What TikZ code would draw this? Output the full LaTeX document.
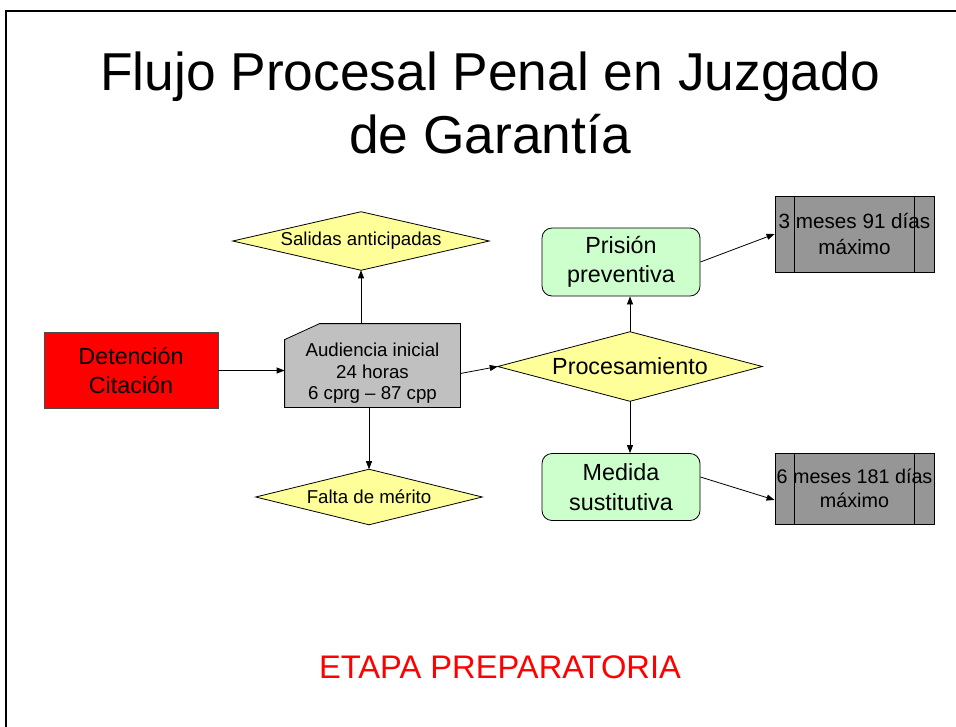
\documentclass[tikz,border=0pt]{standalone}
\usepackage{fontspec}
\setmainfont{Liberation Sans}
\usetikzlibrary{arrows.meta,backgrounds}
\definecolor{boxred}{HTML}{FF0000}
\definecolor{boxgray}{HTML}{C0C0C0}
\definecolor{boxyellow}{HTML}{FFFF99}
\definecolor{boxgreen}{HTML}{CCFFCC}
\definecolor{boxdark}{HTML}{969696}
\tikzset{
  base/.style={draw=black, line width=0.6pt, inner sep=0pt, align=center, text=black},
  dia/.style={inner sep=0pt, align=center, text=black, font=\fontsize{14}{16}\selectfont},
  diafill/.style={draw=black, line width=0.6pt, fill=boxyellow},
  rbox/.style={base, rectangle, rounded corners=7.5pt, fill=boxgreen, font=\fontsize{17.5}{22}\selectfont},
  pbox/.style={base, rectangle, fill=boxdark, font=\fontsize{15.5}{19}\selectfont},
  conn/.style={line width=0.6pt, -{Triangle[length=6pt,width=4.5pt]}},
}
\begin{document}
\begin{tikzpicture}[x=0.75pt,y=-0.75pt]
\useasboundingbox (0,0) rectangle (956,726);
\draw[line width=1.5pt] (6,727) -- (6,11) -- (957,11);
\node[align=center, font=\fontsize{40}{47}\selectfont] (title) at (490,103) {Flujo Procesal Penal en Juzgado\\de Garantía};
\node[base, fill=boxred, draw=black!70, minimum width=130.5pt, minimum height=57pt, font=\fontsize{17.5}{21.5}\selectfont] (det) at (131,370.5) {Detención\\Citación};
\node[base, draw=none, minimum width=131.25pt, minimum height=50.25pt, font=\fontsize{14}{16.2}\selectfont] (aud) at (372.5,373.5) {Audiencia inicial\\24 horas\\6 cprg – 87 cpp};
\coordinate (audtop) at ([yshift=12pt]aud.north);
\node[dia, minimum width=192pt, minimum height=43.5pt] (sal) at (361,241) {Salidas anticipadas};
\node[dia, minimum width=169.5pt, minimum height=41.25pt] (fal) at (369,497) {Falta de mérito};
\node[dia, minimum width=198pt, minimum height=51.75pt, font=\fontsize{17.5}{21}\selectfont] (proc) at (630,366.5) {Procesamiento};
\begin{scope}[on background layer]
\draw[line width=0.6pt, fill=boxgray] (aud.north west) -- ([xshift=26.25pt,yshift=12pt]aud.north west) -- ([yshift=12pt]aud.north east) -- (aud.south east) -- (aud.south west) -- cycle;
\foreach \n in {sal,fal,proc}{
  \draw[diafill] (\n.north) -- (\n.east) -- (\n.south) -- (\n.west) -- cycle;
}
\end{scope}
\node[rbox, minimum width=118.5pt, minimum height=51pt] (pri) at (621,262) {Prisión\\preventiva};
\node[rbox, minimum width=118.5pt, minimum height=50.25pt] (med) at (621,487) {Medida\\sustitutiva};
\node[pbox, minimum width=119.25pt, minimum height=57pt] (m3) at (854.5,234) {3 meses 91 días\\máximo};
\node[pbox, minimum width=119.25pt, minimum height=53.25pt, font=\fontsize{14.8}{18}\selectfont] (m6) at (854.5,488.5) {6 meses 181 días\\máximo};
\foreach \n in {m3,m6}{
  \draw[line width=0.6pt] ([xshift=15pt]\n.north west) -- ([xshift=15pt]\n.south west);
  \draw[line width=0.6pt] ([xshift=-15pt]\n.north east) -- ([xshift=-15pt]\n.south east);
}
\node[text=boxred, font=\fontsize{24.5}{28}\selectfont] (etapa) at (500,667) {ETAPA PREPARATORIA};
\draw[conn] (det.east) -- (det.east -| aud.west);
\draw[conn] (sal.south |- audtop) -- (sal.south);
\draw[conn] (fal.north |- aud.south) -- (fal.north);
\draw[conn] (aud.east) -- (proc.west);
\draw[conn] (proc.north) -- (proc.north |- pri.south);
\draw[conn] (proc.south) -- (proc.south |- med.north);
\draw[conn] (pri.east) -- (m3.west);
\draw[conn] ([yshift=7.5pt]med.east) -- ([yshift=-8.6pt]m6.west);
\end{tikzpicture}
\end{document}
